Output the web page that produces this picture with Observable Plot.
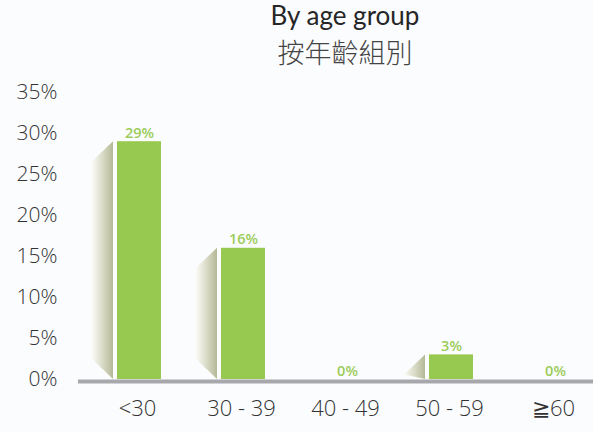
<!DOCTYPE html>
<html><head><meta charset="utf-8">
<script src="https://cdn.jsdelivr.net/npm/d3@7"></script>
<script src="https://cdn.jsdelivr.net/npm/@observablehq/plot@0.6"></script>
<style>
html,body{margin:0;padding:0;background:#fbfcfe;}
body{width:593px;height:432px;overflow:hidden;font-family:"Open Sans","Noto Sans",sans-serif;}
#title{position:absolute;left:0;top:0;width:593px;height:70px;}
#t1{position:absolute;left:225px;width:240px;top:0px;height:31.5px;line-height:31.5px;text-align:center;font-size:26px;color:#262626;font-family:Lato,"Open Sans",sans-serif;}
#t2{position:absolute;left:225px;width:240px;top:32px;height:39px;text-align:center;font-size:27px;color:#444;font-family:"Noto Sans CJK TC",sans-serif;font-weight:300;line-height:39px;}
#chart{position:absolute;left:0;top:70px;}
</style></head>
<body>
<div id="title"><div id="t1">By age group</div><div id="t2">按年齡組別</div></div>
<div id="chart"></div>
<script>
const groups = ["<30", "30 - 39", "40 - 49", "50 - 59", "≧60"];
const values = [29, 16, 0, 3, 0];
const yTicks = [0, 5, 10, 15, 20, 25, 30, 35];

const data = groups.map((g, i) => ({group: g, value: values[i]}));

const shadow = Plot.barY(data, {
  x: "group", y: "value",
  render(index, scales, vals, dims, ctx) {
    const g = d3.create("svg:g");
    const defs = g.append("defs");
    const lg = defs.append("linearGradient").attr("id", "shade").attr("x1", 0).attr("x2", 1).attr("y1", 0).attr("y2", 0);
    lg.append("stop").attr("offset", "0%").attr("stop-color", "#fbfbf6");
    lg.append("stop").attr("offset", "55%").attr("stop-color", "#d6d8c2");
    lg.append("stop").attr("offset", "100%").attr("stop-color", "#b4b895");
    const y0 = scales.y(0);
    for (const i of index) {
      const d = data[i];
      if (d.value <= 0) continue;
      const bx = scales.x(d.group);
      const top = scales.y(d.value);
      const xr = bx + 26, xl = bx + 5, s = 20;
      const tl = Math.min(top + s, y0);
      const bl = Math.max(y0 - s, tl);
      g.append("polygon")
        .attr("points", [[xr, top], [xl, tl], [xl, bl], [xr, y0]].map(p => p.join(",")).join(" "))
        .attr("fill", "url(#shade)");
    }
    return g.node();
  }
});

const chart = Plot.plot({
  width: 593,
  height: 362,
  marginTop: 22,
  marginBottom: 53,
  marginLeft: 60,
  marginRight: 0,
  style: {background: "transparent", fontFamily: "'Open Sans','Noto Sans',sans-serif"},
  x: {domain: groups, range: [87, 607], padding: 0, label: null, tickSize: 0, tickPadding: 21},
  y: {domain: [0, 35], ticks: yTicks, tickFormat: d => d + "%", label: null, tickSize: 0, tickPadding: 3},
  marks: [
    shadow,
    Plot.barY(data, {x: "group", y: "value", fill: "#97c84f", insetLeft: 30, insetRight: 30}),
    Plot.ruleY([0], {stroke: "#a8a8ac", strokeWidth: 4, dy: 2, insetLeft: 18}),
    Plot.text(data, {x: "group", y: "value", text: d => d.value + "%", fill: "#9ccc5a", fontSize: 14.5, fontWeight: 600, lineAnchor: "bottom", dy: -4}),
    Plot.axisY({ticks: yTicks, tickFormat: d => d + "%", tickSize: 0, tickPadding: 3, fontSize: 21, fontWeight: 300, fill: "#333", label: null}),
    Plot.axisX({tickSize: 0, tickPadding: 21, fontSize: 22, fontWeight: 300, fill: "#333", label: null, dx: -2})
  ]
});
document.getElementById("chart").appendChild(chart);
</script>
</body></html>
